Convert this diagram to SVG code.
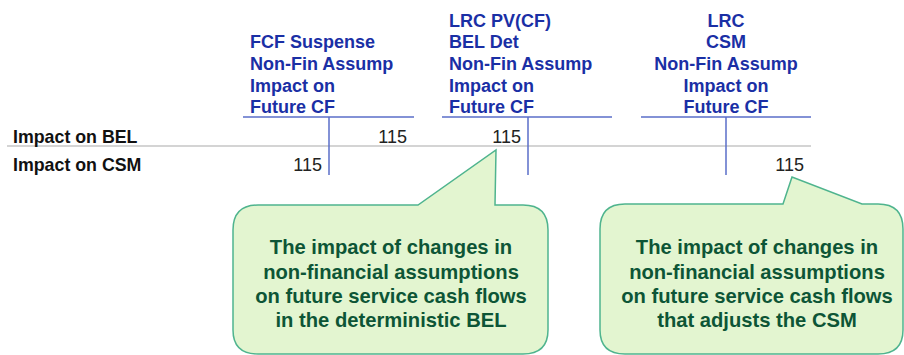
<svg xmlns="http://www.w3.org/2000/svg" width="904" height="355" viewBox="0 0 904 355">
<style>
.hd{font-family:"Liberation Sans",Arial,sans-serif;font-weight:bold;font-size:18px;fill:#1a2fa5}
.rl{font-family:"Liberation Sans",Arial,sans-serif;font-weight:bold;font-size:17.8px;fill:#111}
.num{font-family:"Liberation Sans",Arial,sans-serif;font-size:18px;fill:#222;text-anchor:end}
.co{font-family:"Liberation Sans",Arial,sans-serif;font-weight:bold;font-size:20.2px;fill:#0d5536;text-anchor:middle}
.bl{stroke:#5a6ec8;stroke-width:1.5;fill:none}
.gr{stroke:#d4d4d4;stroke-width:2;fill:none}
.call{fill:#e3f5d0;stroke:#4fb48e;stroke-width:1.5}
</style>
<rect width="904" height="355" fill="#fff"/>
<g id="connectors">
<line class="gr" x1="7" y1="146" x2="811" y2="146"/>
<line class="bl" x1="243" y1="117" x2="414" y2="117"/>
<line class="bl" x1="442" y1="117" x2="612" y2="117"/>
<line class="bl" x1="641" y1="117" x2="811" y2="117"/>
<line class="bl" x1="329" y1="117" x2="329" y2="175"/>
<line class="bl" x1="528" y1="117" x2="528" y2="175"/>
<line class="bl" x1="726" y1="117" x2="726" y2="175"/>
</g>
<g id="col1">
<text class="hd" x="250" y="48">FCF Suspense</text>
<text class="hd" x="250" y="70">Non-Fin Assump</text>
<text class="hd" x="250" y="92">Impact on</text>
<text class="hd" x="250" y="113">Future CF</text>
</g>
<g id="col2">
<text class="hd" x="449" y="27">LRC PV(CF)</text>
<text class="hd" x="449" y="48">BEL Det</text>
<text class="hd" x="449" y="70">Non-Fin Assump</text>
<text class="hd" x="449" y="92">Impact on</text>
<text class="hd" x="449" y="113">Future CF</text>
</g>
<g id="col3" text-anchor="middle">
<text class="hd" x="726" y="27">LRC</text>
<text class="hd" x="726" y="48">CSM</text>
<text class="hd" x="726" y="70">Non-Fin Assump</text>
<text class="hd" x="726" y="92">Impact on</text>
<text class="hd" x="726" y="113">Future CF</text>
</g>
<g id="rows">
<text class="rl" x="13" y="143">Impact on BEL</text>
<text class="rl" x="13" y="171">Impact on CSM</text>
</g>
<g id="values">
<text class="num" x="407" y="143">115</text>
<text class="num" x="521" y="143">115</text>
<text class="num" x="322" y="171">115</text>
<text class="num" x="804" y="171">115</text>
</g>
<g id="callout1">
<path class="call" d="M258,205 L418,205 L496,150 L495,205 L523,205 Q548,205 548,230 L548,330 Q548,354 523,354 L258,354 Q233,354 233,330 L233,230 Q233,205 258,205 Z"/>
<text class="co" x="391" y="254">The impact of changes in</text>
<text class="co" x="391" y="279">non-financial assumptions</text>
<text class="co" x="391" y="303">on future service cash flows</text>
<text class="co" x="391" y="327">in the deterministic BEL</text>
</g>
<g id="callout2">
<path class="call" d="M625,204 L783,204 L792,177 L862,204 L878,204 Q903,204 903,229 L903,330 Q903,354 878,354 L625,354 Q600,354 600,330 L600,229 Q600,204 625,204 Z"/>
<text class="co" x="757" y="254">The impact of changes in</text>
<text class="co" x="757" y="279">non-financial assumptions</text>
<text class="co" x="757" y="303">on future service cash flows</text>
<text class="co" x="757" y="327">that adjusts the CSM</text>
</g>
</svg>
